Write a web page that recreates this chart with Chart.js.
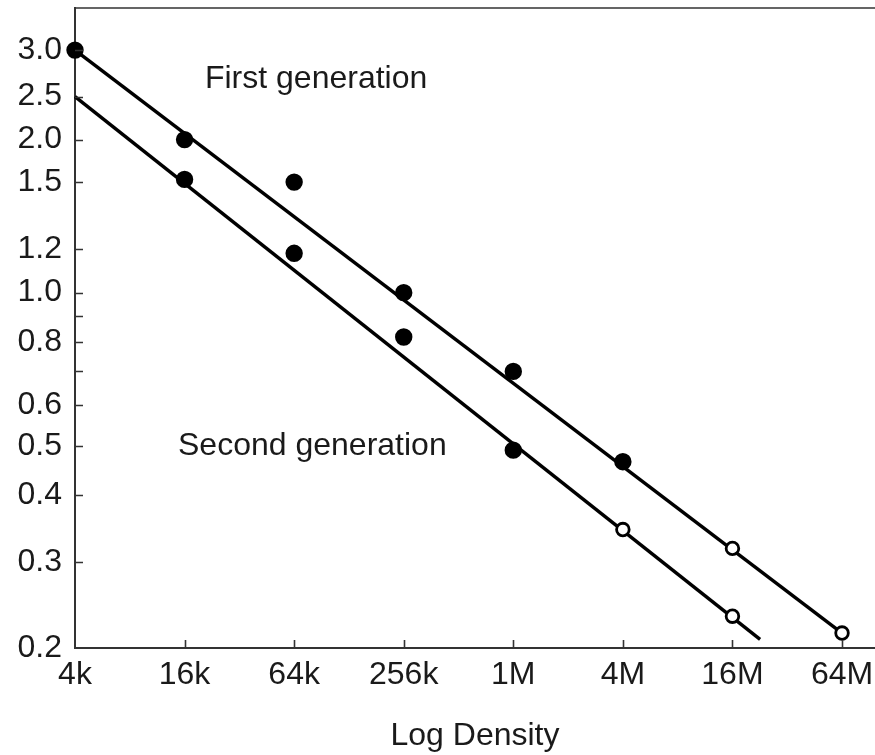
<!DOCTYPE html>
<html>
<head>
<meta charset="utf-8">
<script src="https://cdn.jsdelivr.net/npm/chart.js@4"></script>
<style>
  html, body { margin: 0; padding: 0; background: #fff; }
  #wrap { width: 875px; height: 755px; }
</style>
</head>
<body>
<div id="wrap"><canvas id="grafica" width="875" height="755"></canvas></div>
<script>
// densidades del eje x (4k .. 64M) y sus etiquetas
const densities = [4096, 16384, 65536, 262144, 1048576, 4194304, 16777216, 67108864];
const densityLabels = ['4k', '16k', '64k', '256k', '1M', '4M', '16M', '64M'];

// valores
const firstGen = [3.0, 2.0, 1.65, 1.0, 0.70, 0.465, 0.314, 0.214];
const secondGen = [null, 1.67, 1.195, 0.818, 0.49, 0.342, 0.231, null];
// 1 = circulo abierto (proyectado)
const firstGenOpen = [0, 0, 0, 0, 0, 0, 1, 1];
const secondGenOpen = [0, 0, 0, 0, 0, 1, 1, 0];

// rectas de ajuste: extremos
const firstFitX = [4096, 67108864];
const firstFitY = [3.0, 0.214];
const secondFitX = [4096, 23800000];
const secondFitY = [2.43, 0.208];

// marcas del eje y (donde caen en la figura) y su texto
const yTickAt = [0.2, 0.295, 0.4, 0.5, 0.6, 0.7, 0.8, 0.9, 1.0, 1.22, 1.65, 2.0, 2.43, 3.0];
const yTickText = ['0.2', '0.3', '0.4', '0.5', '0.6', '', '0.8', '', '1.0', '1.2', '1.5', '2.0', '2.5', '3.0'];

// textos sobre la grafica
const notes = [
  { text: 'First generation', x: 21200, y: 2.63 },
  { text: 'Second generation', x: 15080, y: 0.5 }
];

const FONT = "'Liberation Sans', Arial, Helvetica, sans-serif";
const INK = '#1a1a1a';

function toPoints(xs, ys) {
  return xs.map((x, i) => ({ x: x, y: ys[i] })).filter(p => p.y !== null);
}
function fillFor(values, open) {
  return values.map((v, i) => open[i] ? '#fff' : '#000').filter((c, i) => values[i] !== null);
}
function radiusFor(values, open) {
  return values.map((v, i) => open[i] ? 6.3 : 7.3).filter((r, i) => values[i] !== null);
}

const marcas = {
  id: 'marcas',
  afterDraw(chart) {
    const ctx = chart.ctx;
    const area = chart.chartArea;
    const xs = chart.scales.x;
    const ys = chart.scales.y;
    ctx.save();
    ctx.strokeStyle = '#333';
    ctx.lineWidth = 1.6;
    ctx.beginPath();
    // borde superior
    ctx.moveTo(area.left, area.top);
    ctx.lineTo(area.right, area.top);
    // marcas hacia dentro
    ys.ticks.forEach(t => {
      if (t.value <= ys.min) return;
      const y = Math.round(ys.getPixelForValue(t.value)) + 0.5;
      ctx.moveTo(area.left, y);
      ctx.lineTo(area.left + 8, y);
    });
    xs.ticks.forEach(t => {
      if (t.value <= xs.min) return;
      const x = Math.round(xs.getPixelForValue(t.value)) + 0.5;
      ctx.moveTo(x, area.bottom);
      ctx.lineTo(x, area.bottom - 8);
    });
    ctx.stroke();

    ctx.fillStyle = INK;
    ctx.font = '32px ' + FONT;
    ctx.textBaseline = 'middle';
    ctx.textAlign = 'left';
    notes.forEach(n => {
      ctx.fillText(n.text, xs.getPixelForValue(n.x), ys.getPixelForValue(n.y));
    });
    ctx.restore();
  }
};

const ctx = document.getElementById('grafica').getContext('2d');
new Chart(ctx, {
  type: 'scatter',
  data: {
    datasets: [
      {
        label: 'First generation',
        data: toPoints(densities, firstGen),
        pointBackgroundColor: fillFor(firstGen, firstGenOpen),
        pointBorderColor: '#000',
        pointBorderWidth: 2.8,
        pointRadius: radiusFor(firstGen, firstGenOpen),
        showLine: false,
        clip: false,
        order: 0
      },
      {
        label: 'Second generation',
        data: toPoints(densities, secondGen),
        pointBackgroundColor: fillFor(secondGen, secondGenOpen),
        pointBorderColor: '#000',
        pointBorderWidth: 2.8,
        pointRadius: radiusFor(secondGen, secondGenOpen),
        showLine: false,
        clip: false,
        order: 0
      },
      {
        label: 'fit 1',
        data: toPoints(firstFitX, firstFitY),
        showLine: true,
        borderColor: '#000',
        borderWidth: 3.4,
        pointRadius: 0,
        clip: false,
        order: 1
      },
      {
        label: 'fit 2',
        data: toPoints(secondFitX, secondFitY),
        showLine: true,
        borderColor: '#000',
        borderWidth: 3.4,
        pointRadius: 0,
        clip: false,
        order: 1
      }
    ]
  },
  options: {
    responsive: false,
    animation: false,
    layout: { autoPadding: false, padding: { top: 8, right: 0, left: 0, bottom: 0 } },
    plugins: {
      legend: { display: false },
      tooltip: { enabled: false }
    },
    scales: {
      x: {
        type: 'logarithmic',
        min: 4096,
        max: 1.0185e8,
        afterBuildTicks: axis => {
          axis.ticks = densities.map(v => ({ value: v }));
        },
        afterFit: axis => {
          axis.height = 107;
          axis.paddingLeft = 0;
          axis.paddingRight = 0;
        },
        ticks: {
          autoSkip: false,
          maxRotation: 0,
          padding: 8,
          color: INK,
          font: { family: FONT, size: 32 },
          callback: (value, index) => densityLabels[index]
        },
        grid: { drawOnChartArea: false, drawTicks: false },
        border: { display: true, color: '#333', width: 2 },
        title: {
          display: true,
          text: 'Log Density',
          color: INK,
          font: { family: FONT, size: 32 },
          padding: { top: 0, bottom: 0 }
        }
      },
      y: {
        type: 'logarithmic',
        min: 0.2,
        max: 3.63,
        afterBuildTicks: axis => {
          axis.ticks = yTickAt.map(v => ({ value: v }));
        },
        afterFit: axis => {
          axis.width = 75;
          axis.paddingTop = 0;
          axis.paddingBottom = 0;
        },
        ticks: {
          autoSkip: false,
          padding: 13,
          color: INK,
          font: { family: FONT, size: 32 },
          callback: (value, index) => yTickText[index]
        },
        grid: { drawOnChartArea: false, drawTicks: false },
        border: { display: true, color: '#333', width: 2 }
      }
    }
  },
  plugins: [marcas]
});
</script>
</body>
</html>
